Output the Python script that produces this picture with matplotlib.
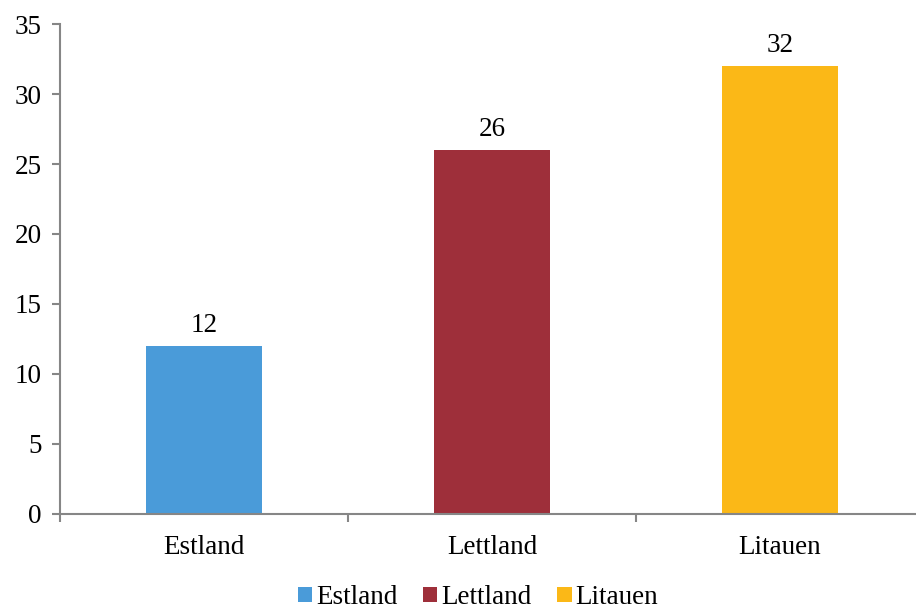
import matplotlib
matplotlib.use("Agg")
import matplotlib.pyplot as plt
from matplotlib.patches import Patch

plt.rcParams['font.family'] = ['Liberation Serif', 'DejaVu Serif']

countries = ["Estland", "Lettland", "Litauen"]
values = [12, 26, 32]
colors = ["#4A9BD9", "#9E2F3A", "#FBB817"]
y_ticks = [0, 5, 10, 15, 20, 25, 30, 35]

FS = 19.5

fig = plt.figure(figsize=(9.16, 6.11), dpi=100)
ax = fig.add_axes([0.0655, 0.1588, 0.9432, 0.8019])

x = list(range(len(countries)))
bars = ax.bar(x, values, width=0.40, color=colors, zorder=2)

for xi, v in zip(x, values):
    ax.annotate(str(v), (xi, v), xytext=(0, 6), textcoords="offset points",
                ha="center", va="bottom", fontsize=FS)

ax.set_xlim(-0.5, len(countries) - 0.5)
ax.set_ylim(0, 35)
ax.set_yticks(y_ticks)
ax.set_yticklabels([str(t) for t in y_ticks], fontsize=FS)

# category labels in the middle, tick marks on the boundaries
ax.set_xticks(x)
ax.set_xticklabels(countries, fontsize=FS)
ax.tick_params(axis='x', which='major', length=0, pad=15)
ax.set_xticks([i - 0.5 for i in range(len(countries) + 1)], minor=True)
ax.tick_params(axis='x', which='minor', length=6, width=1.5, color="#868686", direction='out')
ax.tick_params(axis='y', length=6, width=1.5, color="#868686", direction='out', pad=7)

for side in ("top", "right"):
    ax.spines[side].set_visible(False)
for side in ("left", "bottom"):
    ax.spines[side].set_color("#868686")
    ax.spines[side].set_linewidth(1.5)

handles = [Patch(facecolor=c, edgecolor='none') for c in colors]
fig.legend(handles, countries, loc="center", bbox_to_anchor=(0.522, 0.022),
           ncol=3, frameon=False, fontsize=FS, handlelength=0.52, handleheight=0.52,
           handletextpad=0.15, columnspacing=0.95, borderaxespad=0, borderpad=0)

fig.savefig("out.png", dpi=100)
